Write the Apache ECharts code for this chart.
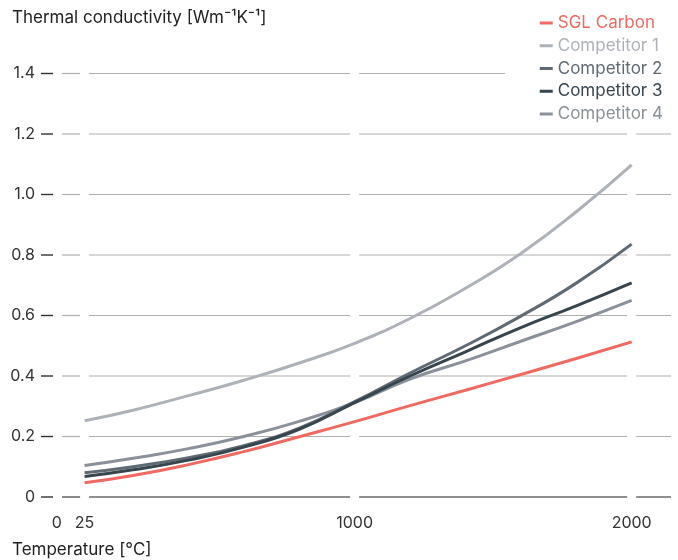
<!DOCTYPE html>
<html>
<head>
<meta charset="utf-8">
<script src="https://cdn.jsdelivr.net/npm/echarts@6/dist/echarts.min.js"></script>
<style>
  html, body { margin: 0; padding: 0; background: #fff; }
  #chart { width: 678px; height: 560px; }
</style>
</head>
<body>
<div id="chart"></div>
<script>
// ---- data ----
const temps = [25, 200, 400, 600, 800, 1000, 1200, 1400, 1600, 1800, 2000];
const sglCarbon    = [0.047, 0.071, 0.107, 0.150, 0.199, 0.249, 0.302, 0.353, 0.405, 0.458, 0.513];
const competitor1  = [0.252, 0.287, 0.335, 0.386, 0.443, 0.508, 0.590, 0.690, 0.805, 0.943, 1.098];
const competitor2  = [0.080, 0.100, 0.130, 0.170, 0.228, 0.315, 0.410, 0.500, 0.598, 0.707, 0.836];
const competitor3  = [0.068, 0.090, 0.122, 0.165, 0.224, 0.312, 0.400, 0.480, 0.560, 0.632, 0.708];
const competitor4  = [0.104, 0.128, 0.160, 0.200, 0.250, 0.312, 0.390, 0.450, 0.515, 0.580, 0.650];
const seriesNames  = ['SGL Carbon', 'Competitor 1', 'Competitor 2', 'Competitor 3', 'Competitor 4'];
const xTickValues  = [25, 1000, 2000];
const xBreakLabel  = '0';          // label shown at the axis break
const yTickValues  = [0, 0.2, 0.4, 0.6, 0.8, 1.0, 1.2, 1.4];

// ---- styling / layout ----
const colors = ['#ef6a62', '#adb2b8', '#5f6a74', '#37454f', '#8a919a'];
const X_MIN = -89, X_MAX = 2142, X_BREAK = -75;
const GRID_START = -56.5, TOP_LINE_END = 1543;
const FONT = 'Inter, Roboto, sans-serif';

const chart = echarts.init(document.getElementById('chart'), null, { renderer: 'canvas' });

const allSeries = [sglCarbon, competitor1, competitor2, competitor3, competitor4];

const lineSeries = allSeries.map((vals, i) => ({
  name: seriesNames[i],
  type: 'line',
  data: temps.map((t, j) => [t, vals[j]]),
  smooth: true,
  showSymbol: false,
  symbol: 'none',
  z: 3 + (i === 0 ? 5 : (i === 2 || i === 3 ? 1 : 0)),
  lineStyle: { color: colors[i], width: 3 },
  itemStyle: { color: colors[i] },
  silent: true
}));

const gridSeries = {
  type: 'custom',
  silent: true,
  z: 1,
  clip: false,
  data: yTickValues.map(v => [0, v]),
  encode: { x: 0, y: 1 },
  renderItem: function (params, api) {
    const v = api.value(1);
    const y = api.coord([0, v])[1];
    const axisX = api.coord([X_MIN, v])[0];
    const x0 = api.coord([GRID_START, v])[0];
    const xEnd = api.coord([v >= 1.39 ? TOP_LINE_END : X_MAX, v])[0];
    const cuts = xTickValues.map(t => api.coord([t, v])[0]);
    const segs = [];
    let start = x0;
    let done = false;
    cuts.forEach(c => {
      if (done) return;
      const a = c - 4.5, b = c + 4.5;
      if (a >= xEnd) {
        if (start < xEnd) segs.push([start, xEnd]);
        done = true;
        return;
      }
      if (a > start) segs.push([start, a]);
      start = b;
    });
    if (!done && start < xEnd) segs.push([start, xEnd]);
    const isZero = Math.abs(v) < 1e-9;
    const children = segs.map(s => ({
      type: 'line',
      shape: { x1: s[0], y1: y, x2: s[1], y2: y },
      style: {
        stroke: isZero ? '#6a6a6a' : '#b0b0b0',
        lineWidth: isZero ? 1.6 : 1.2
      }
    }));
    // y-axis tick dash
    children.push({
      type: 'line',
      shape: { x1: axisX - 12, y1: y, x2: axisX, y2: y },
      style: { stroke: '#333', lineWidth: 1.4 }
    });
    return { type: 'group', children: children };
  }
};

const option = {
  animation: false,
  backgroundColor: '#fff',
  textStyle: { fontFamily: FONT },
  grid: { left: 53, right: 7, top: 73.5, bottom: 63, containLabel: false },
  legend: {
    orient: 'vertical',
    right: 10,
    top: 9,
    itemWidth: 13,
    itemHeight: 3,
    itemGap: 4.75,
    icon: 'rect',
    selectedMode: false,
    align: 'left',
    textStyle: { fontSize: 17, lineHeight: 18, fontFamily: FONT },
    data: seriesNames.map((n, i) => ({ name: n, textStyle: { color: colors[i] } }))
  },
  xAxis: {
    type: 'value',
    min: X_MIN,
    max: X_MAX,
    axisLine: { show: false },
    axisTick: { show: false },
    splitLine: { show: false },
    axisLabel: {
      customValues: [X_BREAK].concat(xTickValues),
      formatter: v => (v < 0 ? xBreakLabel : String(v)),
      color: '#333',
      fontSize: 16,
      fontFamily: FONT,
      margin: 18,
      showMinLabel: true,
      showMaxLabel: true
    }
  },
  yAxis: {
    type: 'value',
    min: 0,
    max: 1.4,
    interval: 0.2,
    axisLine: { show: false },
    axisTick: { show: false },
    splitLine: { show: false },
    axisLabel: {
      formatter: v => (v === 0 ? '0' : v.toFixed(1)),
      color: '#333',
      fontSize: 16,
      fontFamily: FONT,
      margin: 18
    }
  },
  graphic: [
    {
      type: 'text', left: 12, top: 9,
      style: { text: 'Thermal conductivity [Wm⁻¹K⁻¹]', fill: '#222', font: '17px ' + FONT }
    },
    {
      type: 'text', left: 12, top: 541,
      style: { text: 'Temperature [°C]', fill: '#222', font: '17px ' + FONT }
    }
  ],
  series: [gridSeries].concat(lineSeries)
};

chart.setOption(option);
</script>
</body>
</html>
